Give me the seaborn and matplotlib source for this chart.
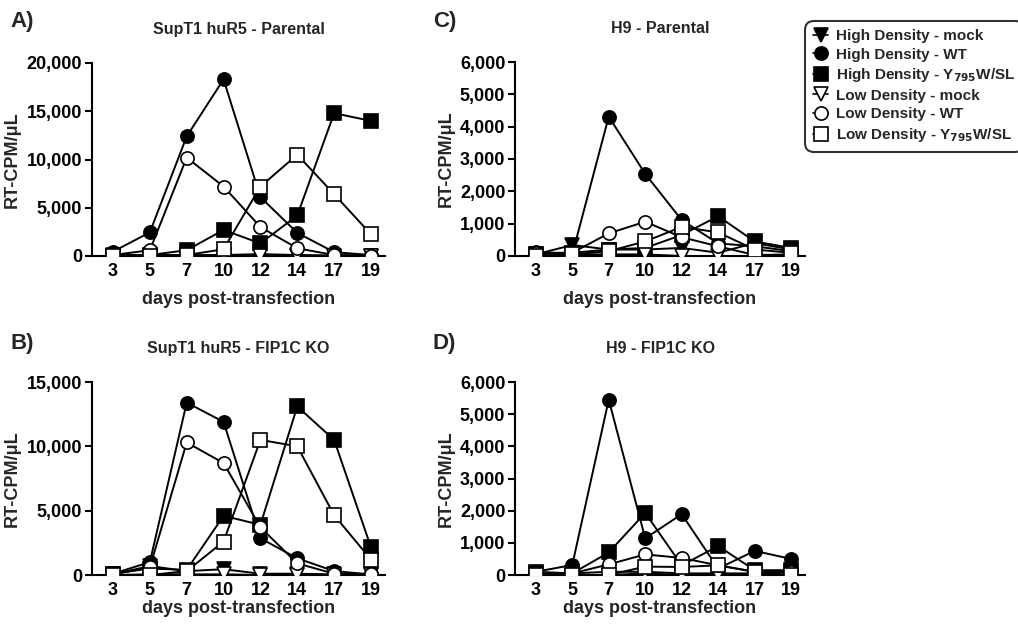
import matplotlib
matplotlib.use("Agg")
import matplotlib.pyplot as plt
import seaborn as sns
import numpy as np
from matplotlib.lines import Line2D

sns.set_theme(style="ticks")
plt.rcParams['font.family'] = ['Liberation Sans', 'DejaVu Sans']
plt.rcParams['font.weight'] = 'bold'

days = ["3", "5", "7", "10", "12", "14", "17", "19"]
series_names = ["High Density - mock", "High Density - WT", "High Density - Y$_{795}$W/SL",
                "Low Density - mock", "Low Density - WT", "Low Density - Y$_{795}$W/SL"]

# Panel A: SupT1 huR5 - Parental
a_high_mock = [100, 100, 100, 100, 200, 100, 50, 50]
a_high_wt   = [450, 2450, 12400, 18300, 6100, 2400, 400, 100]
a_high_y795 = [50, 100, 600, 2700, 1300, 4200, 14800, 14000]
a_low_mock  = [0, 0, 50, 50, 50, 50, 0, 0]
a_low_wt    = [100, 600, 10200, 7200, 3000, 800, 100, 50]
a_low_y795  = [0, 0, 100, 700, 7200, 10500, 6400, 2250]

# Panel B: SupT1 huR5 - FIP1C KO
b_high_mock = [50, 700, 300, 450, 100, 100, 50, 50]
b_high_wt   = [100, 1000, 13400, 11900, 2850, 1300, 300, 50]
b_high_y795 = [100, 500, 400, 4600, 3900, 13100, 10500, 2150]
b_low_mock  = [0, 50, 50, 50, 0, 0, 0, 0]
b_low_wt    = [50, 600, 10300, 8700, 3700, 900, 100, 50]
b_low_y795  = [0, 0, 300, 2600, 10500, 10000, 4650, 1200]

# Panel C: H9 - Parental
c_high_mock = [50, 340, 200, 200, 250, 100, 400, 200]
c_high_wt   = [130, 50, 4310, 2540, 1110, 390, 300, 150]
c_high_y795 = [50, 100, 200, 250, 650, 1230, 450, 250]
c_low_mock  = [0, 50, 50, 50, 0, 0, 0, 0]
c_low_wt    = [100, 100, 700, 1060, 580, 300, 30, 50]
c_low_y795  = [0, 50, 150, 450, 900, 730, 200, 100]

# Panel D: H9 - FIP1C KO
d_high_mock = [50, 50, 100, 100, 50, 50, 50, 100]
d_high_wt   = [100, 310, 5450, 1140, 1890, 200, 750, 500]
d_high_y795 = [100, 50, 700, 1930, 300, 900, 150, 150]
d_low_mock  = [0, 0, 0, 50, 0, 0, 0, 0]
d_low_wt    = [50, 50, 330, 640, 530, 300, 100, 100]
d_low_y795  = [0, 0, 0, 260, 250, 300, 100, 0]

panels = [
    ("A)", "SupT1 huR5 - Parental", 20000, 5000,
     [a_high_mock, a_high_wt, a_high_y795, a_low_mock, a_low_wt, a_low_y795]),
    ("C)", "H9 - Parental", 6000, 1000,
     [c_high_mock, c_high_wt, c_high_y795, c_low_mock, c_low_wt, c_low_y795]),
    ("B)", "SupT1 huR5 - FIP1C KO", 15000, 5000,
     [b_high_mock, b_high_wt, b_high_y795, b_low_mock, b_low_wt, b_low_y795]),
    ("D)", "H9 - FIP1C KO", 6000, 1000,
     [d_high_mock, d_high_wt, d_high_y795, d_low_mock, d_low_wt, d_low_y795]),
]

markers = ['v', 'o', 's', 'v', 'o', 's']
faces = ['black', 'black', 'black', 'white', 'white', 'white']

W, H = 1018, 625
fig = plt.figure(figsize=(W / 100, H / 100), dpi=100)

# axes rectangles in pixel coords (left, right, top(y of ymax), bottom(y of 0))
rects = [(92, 385, 63, 256), (515, 805, 62, 256), (92, 385, 382, 575), (515, 805, 382, 575)]
letter_pos = [(10, 22), (433, 22), (10, 343), (433, 343)]
xlabel_pads = [8, 8, 1, 1]

pos = np.arange(len(days))
draw_order = [3, 4, 5, 0, 1, 2]

for (letter, title, ymax, ystep, data), (l, r, t, b), (lx, ly), lp in zip(panels, rects, letter_pos, xlabel_pads):
    ax = fig.add_axes([l / W, 1 - b / H, (r - l) / W, (b - t) / H])
    for i in draw_order:
        sns.lineplot(x=pos, y=data[i], ax=ax, color='black', linewidth=1.4,
                     marker=markers[i], markersize=9.5,
                     markerfacecolor=faces[i], markeredgecolor='black',
                     markeredgewidth=1.2, sort=False, zorder=3 + i)
    ax.set_xlim(-0.57, 7.38)
    ax.set_ylim(0, ymax)
    ax.set_yticks(np.arange(0, ymax + 1, ystep))
    ax.set_yticklabels([f"{v:,}" for v in np.arange(0, ymax + 1, ystep)])
    ax.set_xticks(pos)
    ax.set_xticklabels(days)
    for s in ['top', 'right']:
        ax.spines[s].set_visible(False)
    for s in ['left', 'bottom']:
        ax.spines[s].set_linewidth(1.5)
        ax.spines[s].set_color('black')
    ax.tick_params(axis='y', length=5, width=1.5, labelsize=13, pad=2, colors='black')
    ax.tick_params(axis='x', length=0, width=1.5, labelsize=13, pad=5, colors='black')
    for lab in ax.get_xticklabels() + ax.get_yticklabels():
        lab.set_fontweight('bold')
    ax.set_xlabel("days post-transfection", fontsize=13, fontweight='bold', labelpad=lp)
    ax.set_ylabel("RT-CPM/μL", fontsize=13, fontweight='bold', labelpad=4)
    ax.grid(False)
    ax.set_facecolor('white')
    ax.set_title(title, fontsize=11.5, fontweight='bold', pad=21)
    fig.text(lx / W, 1 - ly / H, letter, fontsize=16, fontweight='bold', va='center', ha='left')

handles = [Line2D([0], [0], color='black', linewidth=1.2, marker=m, markersize=9.5,
                  markerfacecolor=f, markeredgecolor='black', markeredgewidth=1.2)
           for m, f in zip(markers, faces)]
leg = fig.legend(handles, series_names, loc='upper left', bbox_to_anchor=(800 / W, 1 - 16 / H),
                 frameon=True, fancybox=True, handlelength=1.0, handletextpad=0.5,
                 labelspacing=0.3, borderpad=0.35,
                 prop={'weight': 'bold', 'size': 11})
leg.get_frame().set_edgecolor('black')
leg.get_frame().set_linewidth(1.5)
leg.get_frame().set_boxstyle('round,pad=0.2,rounding_size=0.6')

fig.savefig("out.png", dpi=100, facecolor='white')
